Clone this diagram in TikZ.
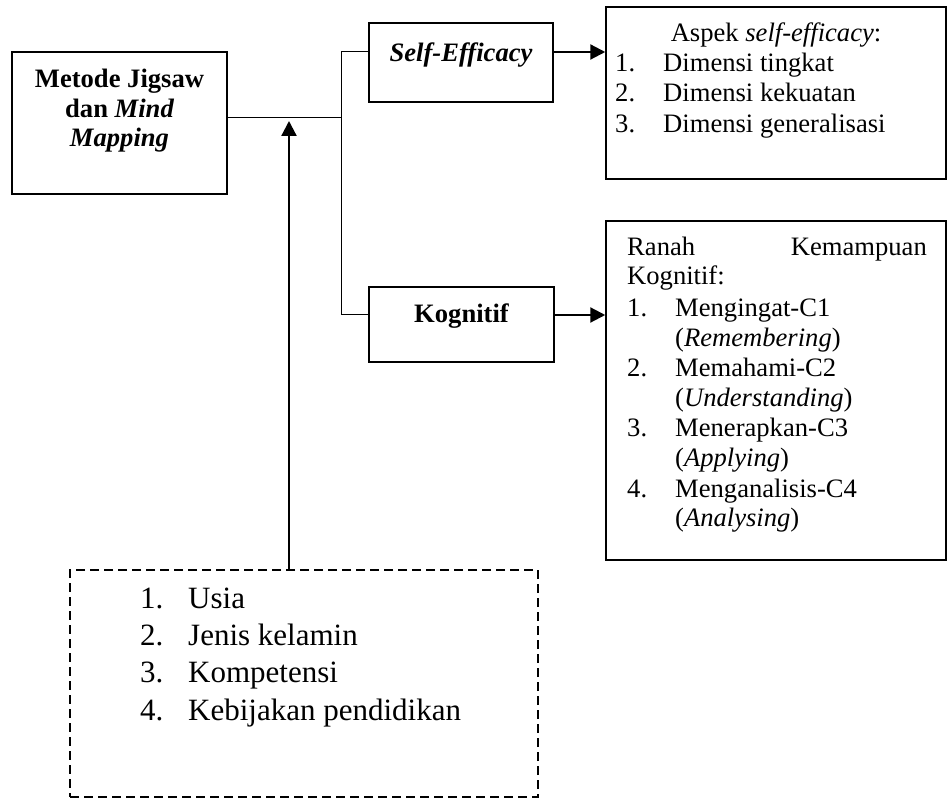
\documentclass[tikz,border=0pt]{standalone}
\usepackage{fontspec}
\setmainfont{Liberation Serif}
\usetikzlibrary{arrows.meta}
\begin{document}
\begin{tikzpicture}[x=1pt,y=-1pt,
  box/.style={draw, line width=1.5pt, inner sep=0pt},
  dbox/.style={draw, line width=1.3pt, dash pattern=on 9pt off 5pt, inner sep=0pt},
  conn/.style={line width=1pt},
  arr/.style={line width=2.2pt, -{Triangle[length=15pt,width=15pt]}},
  txt/.style={inner sep=0pt, font=\fontsize{26.6}{30}\selectfont},
  big/.style={inner sep=0pt, font=\fontsize{31}{37}\selectfont}]
\useasboundingbox (0,0) rectangle (948,799);

% boxes
\node[box, minimum width=215pt, minimum height=142pt] (metode) at (119.5,123) {};
\node[box, minimum width=184pt, minimum height=79pt] (selfeff) at (461,62.5) {};
\node[box, minimum width=185pt, minimum height=75pt] (kog) at (461.5,324.5) {};
\node[box, minimum width=340pt, minimum height=172pt] (aspek) at (776,93) {};
\node[box, minimum width=340pt, minimum height=339pt] (ranah) at (776,390.5) {};
\node[dbox, minimum width=468pt, minimum height=227pt] (faktor) at (304,683.5) {};

% helper coordinates
\coordinate (yMain) at (0,118);
\coordinate (ySE) at (0,52);
\coordinate (yKG) at (0,315);
\coordinate (xJ) at (341,0);
\coordinate (xA) at (289,0);
\coordinate (yTip) at (0,121);

% connectors
\draw[conn] (metode.east |- yMain) -- (xJ |- yMain);
\draw[conn] (selfeff.west |- ySE) -- (xJ |- ySE) -- (xJ |- yKG) -- (kog.west |- yKG);
\draw[arr] (selfeff.east |- ySE) -- (aspek.west |- ySE);
\draw[arr] (kog.east |- yKG) -- (ranah.west |- yKG);
\draw[arr] (faktor.north -| xA) -- (xA |- yTip);

% Metode text
\node[txt, anchor=base] (m1) at (119.5,88) {\bfseries Metode Jigsaw};
\node[txt, anchor=base] (m2) at (119.5,118) {\bfseries dan \itshape Mind};
\node[txt, anchor=base] (m3) at (119.5,147) {\bfseries\itshape Mapping};

\node[txt, anchor=base] (se) at (461,62) {\bfseries\itshape Self-Efficacy};
\node[txt, anchor=base] (kg) at (461.5,323) {\bfseries Kognitif};

% Aspek text
\node[txt, anchor=base] (a0) at (776,42) {Aspek \textit{self-efficacy}:};
\node[txt, anchor=base west] (a1n) at (615,72) {1.};
\node[txt, anchor=base west] (a1) at (663,72) {Dimensi tingkat};
\node[txt, anchor=base west] (a2n) at (615,102) {2.};
\node[txt, anchor=base west] (a2) at (663,102) {Dimensi kekuatan};
\node[txt, anchor=base west] (a3n) at (615,133) {3.};
\node[txt, anchor=base west] (a3) at (663,133) {Dimensi generalisasi};

% Ranah text
\node[txt, anchor=base west] (r0a) at (627,256) {Ranah};
\node[txt, anchor=base east] (r0b) at (927,256) {Kemampuan};
\node[txt, anchor=base west] (r0c) at (627,285) {Kognitif:};
\node[txt, anchor=base west] (r1n) at (627,317) {1.};
\node[txt, anchor=base west] (r1) at (675,317) {Mengingat-C1};
\node[txt, anchor=base west] (r1b) at (675,347) {(\textit{Remembering})};
\node[txt, anchor=base west] (r2n) at (627,377) {2.};
\node[txt, anchor=base west] (r2) at (675,377) {Memahami-C2};
\node[txt, anchor=base west] (r2b) at (675,407) {(\textit{Understanding})};
\node[txt, anchor=base west] (r3n) at (627,437) {3.};
\node[txt, anchor=base west] (r3) at (675,437) {Menerapkan-C3};
\node[txt, anchor=base west] (r3b) at (675,467) {(\textit{Applying})};
\node[txt, anchor=base west] (r4n) at (627,497) {4.};
\node[txt, anchor=base west] (r4) at (675,497) {Menganalisis-C4};
\node[txt, anchor=base west] (r4b) at (675,526) {(\textit{Analysing})};

% Faktor text
\node[big, anchor=base west] (f1n) at (140,608) {1.};
\node[big, anchor=base west] (f1) at (188,608) {Usia};
\node[big, anchor=base west] (f2n) at (140,645) {2.};
\node[big, anchor=base west] (f2) at (188,645) {Jenis kelamin};
\node[big, anchor=base west] (f3n) at (140,682) {3.};
\node[big, anchor=base west] (f3) at (188,682) {Kompetensi};
\node[big, anchor=base west] (f4n) at (140,720) {4.};
\node[big, anchor=base west] (f4) at (188,720) {Kebijakan pendidikan};
\end{tikzpicture}
\end{document}
